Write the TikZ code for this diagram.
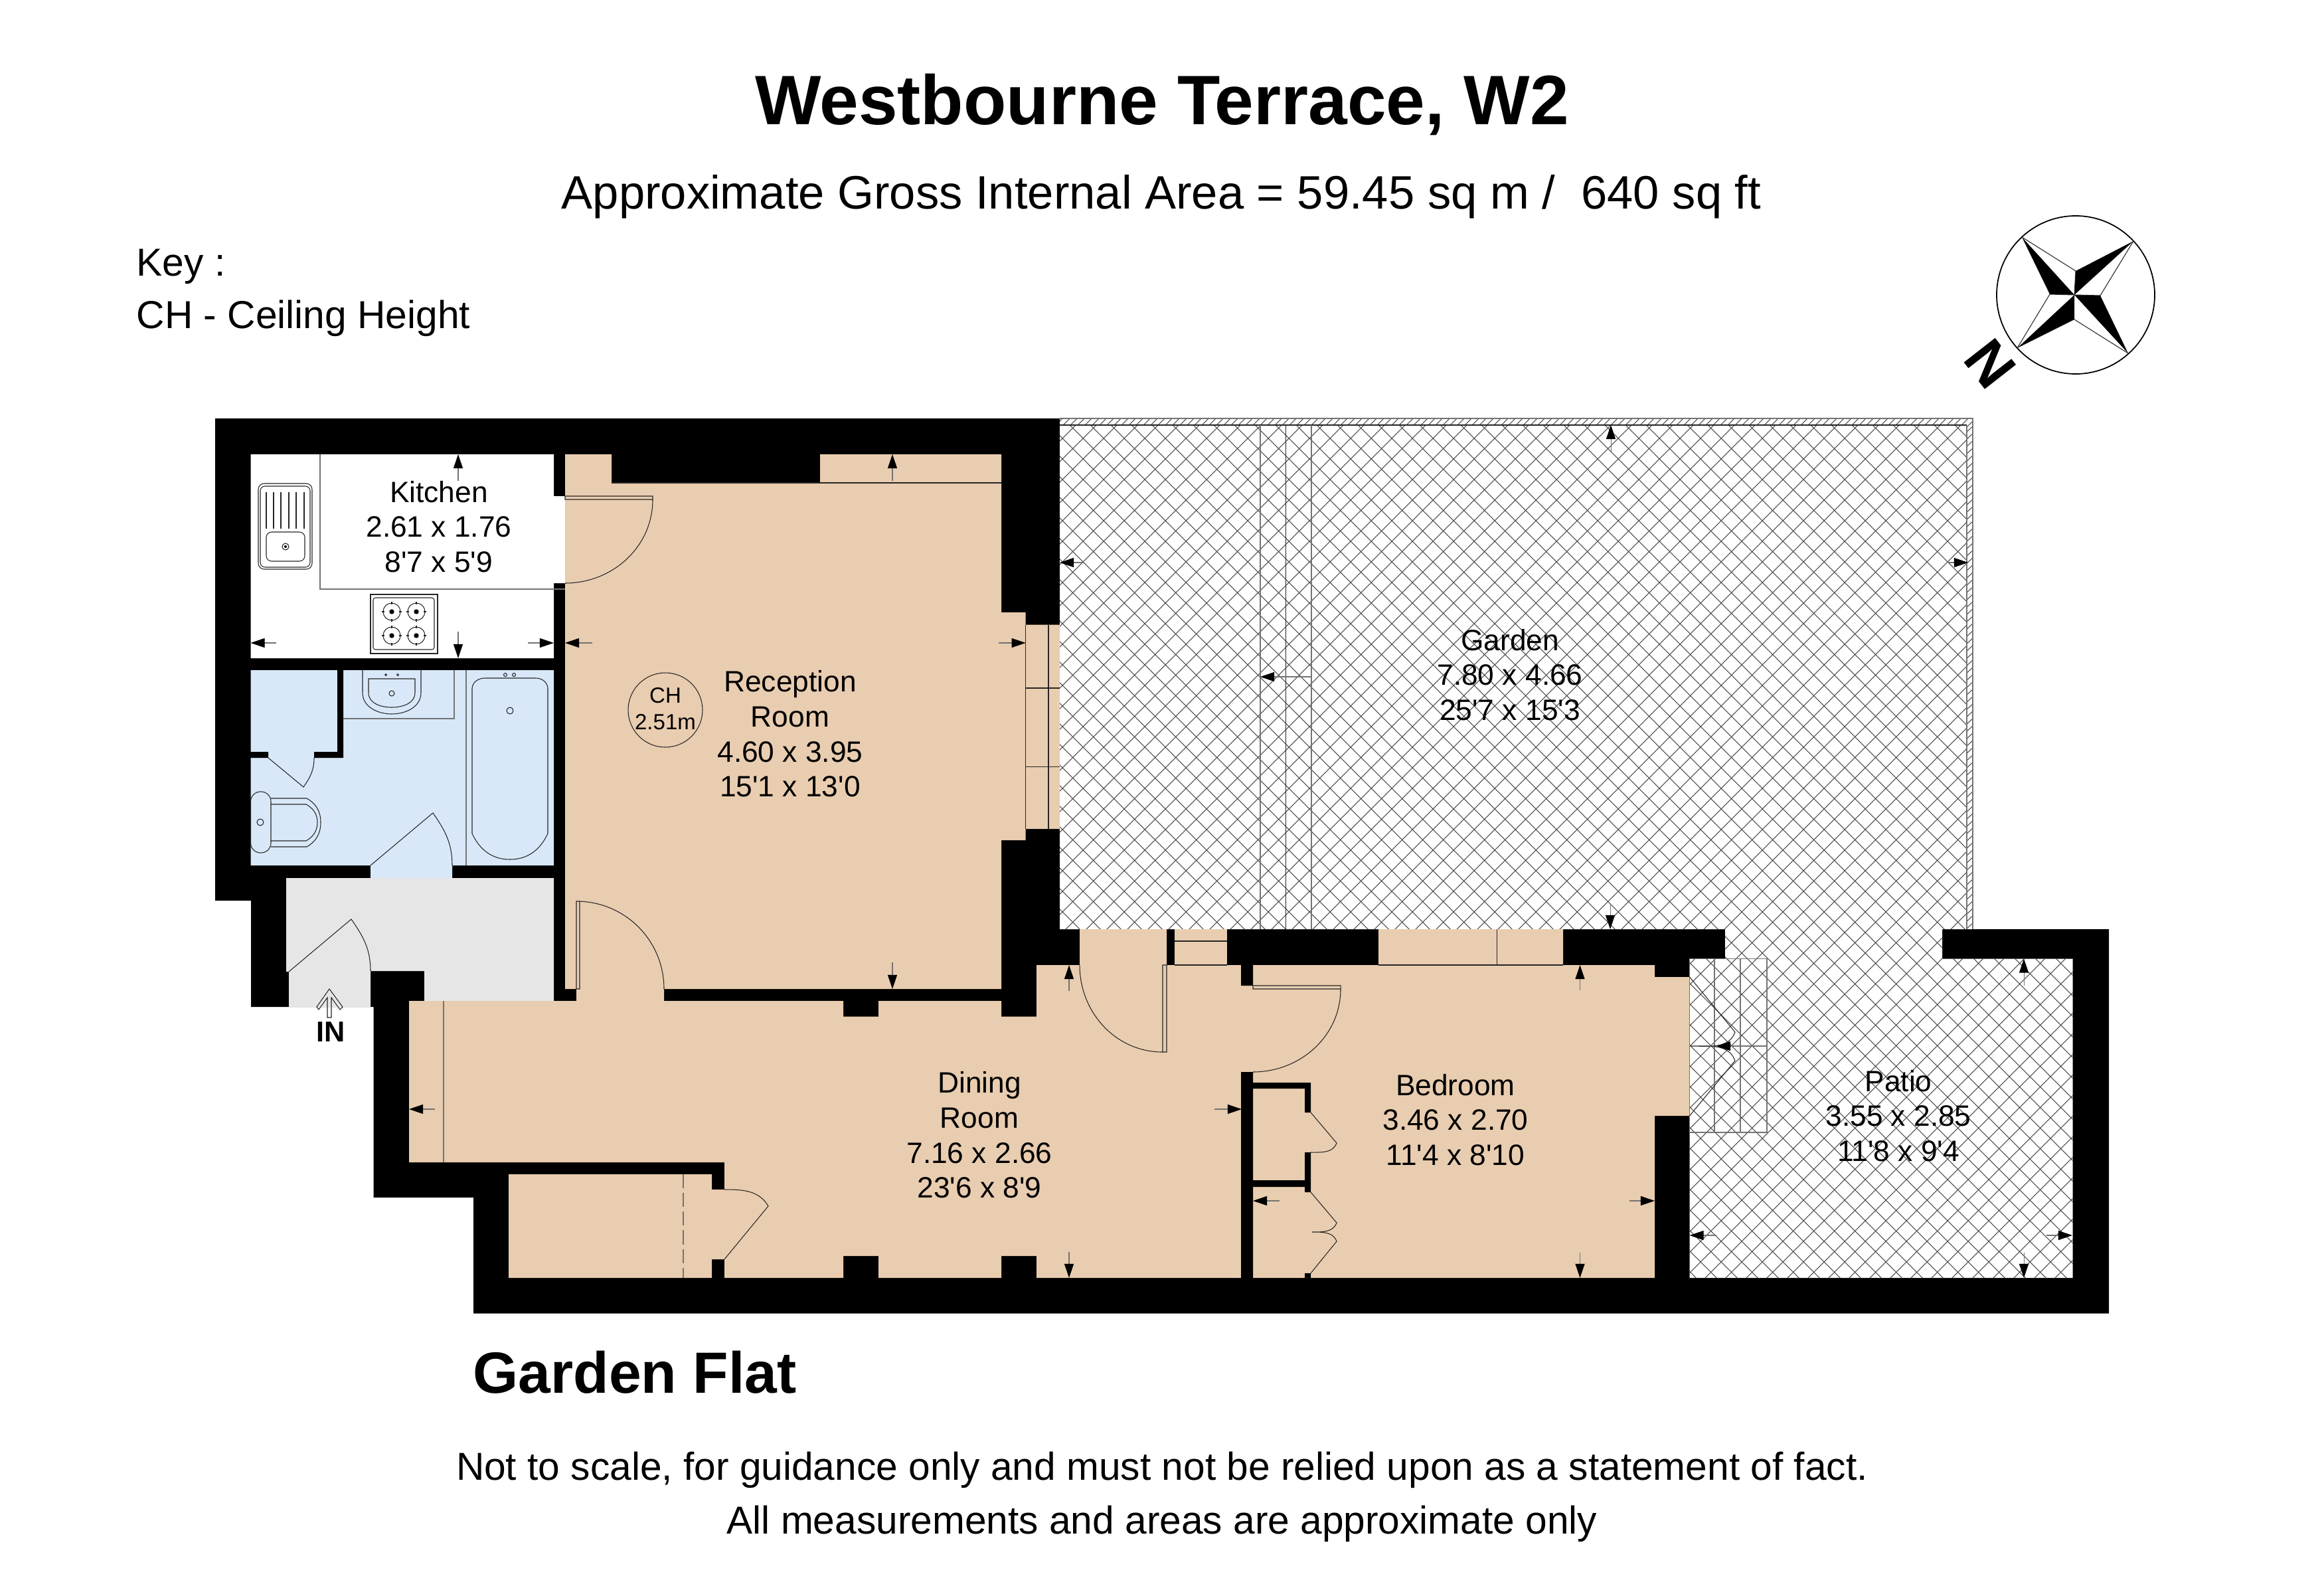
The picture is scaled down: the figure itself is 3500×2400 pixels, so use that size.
\documentclass[tikz,border=0pt]{standalone}
\usepackage{xcolor}
\usepackage{fontspec}
\setmainfont{Liberation Sans}[Ligatures=TeXOff]
\usetikzlibrary{arrows.meta}
\definecolor{roombeige}{RGB}{233,205,176}
\definecolor{bathblue}{RGB}{216,232,248}
\definecolor{hallgrey}{RGB}{230,230,230}
\tikzset{
    thinline/.style={line width=0.3pt,black!85},
    greyline/.style={line width=0.4pt,black!55},
    hatchline/.style={line width=0.3pt,black!70},
    dimarrow/.style={line width=0.3pt,black!55,-{Triangle[length=6pt,width=4pt,fill=black,color=black]}},
    roomlabel/.style={align=center,inner sep=0pt,font=\fontsize{12.6}{15}\selectfont},
    wallpart/.style={fill=black,draw=none}
}
\begin{document}
\begin{tikzpicture}[x=0.01cm,y=-0.01cm]
    \useasboundingbox[fill=white] (0,0) rectangle (3500,2400);

    % Headings
    \node[inner sep=0pt,font=\fontsize{29.97}{34}\bfseries\selectfont] (titletext) at (1750,157) {Westbourne Terrace, W2};
    \node[inner sep=0pt,font=\fontsize{20.07}{24}\selectfont] (areatext) at (1749,296) {Approximate Gross Internal Area = 59.45 sq m /\ \ 640 sq ft};
    \node[inner sep=0pt,anchor=west,font=\fontsize{16.7}{20}\selectfont] (keytext) at (205,401) {Key :};
    \node[inner sep=0pt,anchor=west,font=\fontsize{16.7}{20}\selectfont] (chtext) at (205,479) {CH - Ceiling Height};

    % Compass
    \draw[line width=0.5pt] (3126,444) circle (119);
    \fill (3045,357) -- (3087,443) -- (3124,444) -- cycle;
    \fill (3213,363) -- (3126,408) -- (3124,444) -- cycle;
    \fill (3205,532) -- (3163,445) -- (3124,444) -- cycle;
    \fill (3038,524) -- (3124,481) -- (3124,444) -- cycle;
    \draw[thinline] (3045,357) -- (3126,408) -- (3124,444);
    \draw[thinline] (3213,363) -- (3163,445) -- (3124,444);
    \draw[thinline] (3205,532) -- (3124,481);
    \draw[thinline] (3038,524) -- (3087,443) -- (3124,444);
    \node[inner sep=0pt,rotate=-52,font=\fontsize{24.7}{28}\bfseries\selectfont] (northtext) at (2997,548) {N};

    % Outer walls
    \fill (324,630) -- (1596,630) -- (1596,1399) -- (2598,1399) -- (2598,1443.5) -- (2925,1443.5)
        -- (2925,1399) -- (3176,1399) -- (3176,1977.5) -- (713,1977.5) -- (713,1803) -- (562.5,1803)
        -- (562.5,1516) -- (378,1516) -- (378,1356) -- (324,1356) -- cycle;

    % Garden and patio
    \fill[white] (1596,630) -- (2971,630) -- (2971,1399) -- (2925,1399) -- (2925,1443.5) -- (3121.6,1443.5)
        -- (3121.6,1924) -- (2544.6,1924) -- (2544.6,1443.5) -- (2598,1443.5) -- (2598,1399) -- (1596,1399) -- cycle;
    \begin{scope}
        \clip (1596,640) -- (2962,640) -- (2962,1399) -- (2925,1399) -- (2925,1443.5) -- (3121.6,1443.5)
            -- (3121.6,1924) -- (2544.6,1924) -- (2544.6,1443.5) -- (2598,1443.5) -- (2598,1399) -- (1596,1399) -- cycle;
        \foreach \i in {2229,2260,...,5050}
            \draw[hatchline] (\i-600,600) -- (\i-2000,2000);
        \foreach \i in {-331,-300,...,2495}
            \draw[hatchline] (\i+600,600) -- (\i+2000,2000);
    \end{scope}
    \begin{scope}
        \clip (1596,630) rectangle (2971,640) (2962,640) rectangle (2971,1399);
        \foreach \i in {1600,1611,...,3000}
            \draw[hatchline] (\i-12,642) -- (\i,630);
        \foreach \i in {640,651,...,1400}
            \draw[hatchline] (2960,\i+12) -- (2973,\i);
    \end{scope}
    \draw[greyline] (1596,630) -- (2971,630) -- (2971,1399);
    \draw[thinline] (1596,640) -- (2962,640);
    \draw[greyline] (2962,640) -- (2962,1399);
    \draw[greyline] (1898,640) -- (1898,1399);
    \draw[thinline] (1936,640) -- (1936,1399);
    \draw[greyline] (1975,640) -- (1975,1399);

    % Rooms
    \fill[white] (377.5,684) rectangle (834,991) (834,747) rectangle (851,878);
    \fill[bathblue] (377.5,1009) rectangle (834,1303) (558,1303) rectangle (681,1322);
    \fill[hallgrey] (431,1322) -- (834,1322) -- (834,1507) -- (639,1507) -- (639,1462) -- (558,1462)
        -- (558,1516) -- (435,1516) -- (435,1463) -- (431,1463) -- cycle;
    \fill[roombeige] (851,684) -- (921,684) -- (921,727) -- (1235,727) -- (1235,684) -- (1508,684) -- (1508,922)
        -- (1544.6,922) -- (1544.6,940.6) -- (1596,940.6) -- (1596,1248) -- (1544.6,1248) -- (1544.6,1265)
        -- (1508,1265) -- (1508,1489) -- (1000,1489) -- (1000,1507) -- (868,1507) -- (868,1489) -- (851,1489) -- cycle;
    \fill[roombeige] (616,1507) -- (1270,1507) -- (1270,1530.6) -- (1323,1530.6) -- (1323,1507) -- (1508,1507)
        -- (1508,1530.6) -- (1561,1530.6) -- (1561,1453) -- (1626,1453) -- (1626,1399) -- (1757,1399) -- (1757,1453)
        -- (1869,1453) -- (1869,1924) -- (1561,1924) -- (1561,1891) -- (1508,1891) -- (1508,1924) -- (1323,1924)
        -- (1323,1891) -- (1270,1891) -- (1270,1924) -- (1091,1924) -- (1091,1896) -- (1072,1896) -- (1072,1924)
        -- (766,1924) -- (766,1768) -- (1072,1768) -- (1072,1791) -- (1091,1791) -- (1091,1750) -- (616,1750) -- cycle;
    \fill[roombeige] (1769,1399) rectangle (1848,1453);
    \fill[roombeige] (1887,1453) -- (2076,1453) -- (2076,1399) -- (2354,1399) -- (2354,1453) -- (2492,1453)
        -- (2492,1471) -- (2544.6,1471) -- (2544.6,1680) -- (2492,1680) -- (2492,1924) -- (1887,1924)
        -- (1887,1614) -- (1869,1614) -- (1869,1484) -- (1887,1484) -- cycle;

    % Inner walls
    \fill[wallpart] (1869,1453) rectangle (1887,1484) (1869,1614) rectangle (1887,1924);
    \fill[wallpart] (508,1009) rectangle (517,1141) (377,1132) rectangle (404,1141) (473,1132) rectangle (517,1141);
    \fill[wallpart] (1887,1630) rectangle (1974,1639) (1965,1630) rectangle (1974,1675);
    \fill[wallpart] (1965,1735) rectangle (1974,1795) (1887,1777) rectangle (1974,1787) (1965,1917) rectangle (1974,1924);

    % Windows and edges
    \draw[thinline] (921,727) -- (1508,727);
    \draw[thinline] (1579,940.6) -- (1579,1248) (1544.6,1036) -- (1596,1036) (1544.6,1154.6) -- (1596,1154.6) (1544.6,940.6) -- (1544.6,1248);
    \draw[thinline] (1769,1417) -- (1848,1417) (1769,1453) -- (1848,1453);
    \draw[thinline] (2076,1453) -- (2354,1453) (2254,1399) -- (2254,1453);
    \draw[greyline] (668,1507) -- (668,1750);
    \draw[greyline,dash pattern=on 6pt off 2pt] (1029,1768) -- (1029,1924);
    \draw[greyline] (2544.6,1443.5) rectangle (2661,1705) (2582,1443.5) -- (2582,1705) (2621,1443.5) -- (2621,1705);

    % Doors
    \draw[thinline] (851,747) rectangle (983,752) (983,752) to[out=-90,in=0] (851,878);
    \draw[thinline] (868,1357) rectangle (873,1489) (868,1357) to[out=0,in=90] (1000,1489);
    \draw[thinline] (1751,1453) rectangle (1757,1584) (1751,1584) to[out=180,in=-90] (1626,1453);
    \draw[thinline] (1887,1484) rectangle (2019,1489) (2019,1489) to[out=-90,in=0] (1887,1614);
    \draw[thinline] (558,1303) -- (652,1224) to[out=-55,in=90] (681,1303);
    \draw[thinline] (435,1463) -- (529,1384) to[out=-55,in=90] (558,1462);
    \draw[thinline] (404,1141) -- (457,1185) to[out=55,in=-90] (473,1141);
    \draw[thinline] (1091,1896) -- (1157,1816) to[out=120,in=0] (1091,1791);
    \draw[thinline] (1974,1675) -- (2013,1721) to[out=-110,in=0] (1974,1735);
    \draw[thinline] (1974,1795) -- (2013,1841) to[out=-110,in=0] (1976,1855) to[out=0,in=110] (2013,1869) -- (1974,1917);
    \draw[thinline] (2544.6,1471) -- (2613,1554) to[out=-110,in=0] (2546,1575) to[out=0,in=110] (2613,1597) -- (2544.6,1680);

    % Kitchen fittings
    \draw[greyline] (482,684) -- (482,887) -- (851,887);
    \draw[thinline,rounded corners=2.5pt] (389,728) rectangle (470,857);
    \draw[thinline,rounded corners=2pt] (392,732) rectangle (467,854);
    \draw[thinline,rounded corners=2.3pt] (401,801) rectangle (459,845);
    \foreach \x in {401,412,423,435,446,458}
        \draw[thinline] (\x,741) -- (\x,796);
    \draw[thinline] (430,823) circle (5);
    \fill (430,823) circle (2);
    \draw[thinline] (558,895) rectangle (659,984);
    \draw[thinline,rounded corners=1pt] (562,900) rectangle (654,978);
    \foreach \x in {590,627}
        \foreach \y in {921,957} {
            \draw[thinline] (\x,\y) circle (13);
            \fill (\x,\y) circle (3.7);
            \draw[thinline] (\x-15,\y) -- (\x-11,\y) (\x+11,\y) -- (\x+15,\y) (\x,\y-15) -- (\x,\y-11) (\x,\y+11) -- (\x,\y+15);
        }

    % Bathroom fittings
    \draw[greyline] (517,1082) -- (684,1082) -- (684,1009) (702,1009) -- (702,1303);
    \draw[thinline] (546,1009) -- (546,1043) to[out=-90,in=180] (590,1075) to[out=0,in=-90] (634,1043) -- (634,1009);
    \draw[thinline] (555,1022) -- (555,1043) to[out=-90,in=180] (590,1065) to[out=0,in=-90] (625,1043) -- (625,1022) -- cycle;
    \draw[thinline] (590,1044) circle (4) (581,1016) circle (1.5) (599,1016) circle (1.5);
    \draw[thinline] (711,1255) -- (711,1037) to[out=90,in=180] (730,1021) -- (807,1021) to[out=0,in=90] (825,1037)
        -- (825,1255) to[out=-115,in=0] (768,1294) to[out=180,in=-65] (711,1255);
    \draw[thinline] (768,1070) circle (5) (761,1016) circle (2.5) (774,1016) circle (2.5);
    \draw[thinline,rounded corners=4.2pt] (377.5,1192) rectangle (408,1284);
    \draw[thinline] (408,1202) -- (462,1202) to[out=-30,in=90] (483,1238) to[out=-90,in=30] (462,1275) -- (408,1275);
    \draw[thinline] (408,1211) -- (461,1211) to[out=-30,in=90] (478,1238) to[out=-90,in=30] (461,1266) -- (408,1266);
    \draw[thinline] (392,1238) circle (5);

    % Entrance arrow
    \draw[thinline] (496,1489) -- (516,1516) -- (512,1520) -- (499,1502) -- (499,1532) -- (493,1532) -- (493,1502) -- (480,1520) -- (477,1516) -- cycle;
    \node[inner sep=0pt,font=\fontsize{12.3}{14}\bfseries\selectfont] (intext) at (498,1554) {IN};

    % Measure arrows
    \foreach \tx/\ty/\hx/\hy in {690/724/690/684,690/951/690/991,416/968/377.5/968,795/968/834/968,
        892/968/851/968,1504/968/1544.6/968,1344/724/1344/684,1344/1449/1344/1489,
        2426/680/2426/640,2425/1360/2425/1399,1632/847/1596/847,2935/847/2964/847,1975/1019/1898/1019,
        3048/1484/3048/1443.5,3048/1886/3048/1924,2585/1860/2544.6/1860,3082/1860/3121/1860,
        2379.5/1491/2379.5/1453,2379.5/1886/2379.5/1924,1927/1808/1887/1808,2454/1808/2492/1808,2661/1575/2585/1575,
        655/1670/616/1670,1829/1670/1870/1670,1610/1492/1610/1453,1610/1885/1610/1924}
        \draw[dimarrow] (\tx,\ty) -- (\hx,\hy);

    % Ceiling height
    \draw[thinline] (1002,1069) circle (56);
    \node[inner sep=0pt,align=center,font=\fontsize{9.4}{11.4}\selectfont] (cheight) at (1002,1067) {CH\\2.51m};

    % Room names
    \node[roomlabel] (kitchenlabel) at (661,793) {Kitchen\\2.61 x 1.76\\8'7 x 5'9};
    \node[roomlabel] (receptionlabel) at (1190,1105) {Reception\\Room\\4.60 x 3.95\\15'1 x 13'0};
    \node[roomlabel] (gardenlabel) at (2274,1016) {Garden\\7.80 x 4.66\\25'7 x 15'3};
    \node[roomlabel] (dininglabel) at (1475,1709) {Dining\\Room\\7.16 x 2.66\\23'6 x 8'9};
    \node[roomlabel] (bedroomlabel) at (2192,1686) {Bedroom\\3.46 x 2.70\\11'4 x 8'10};
    \node[roomlabel] (patiolabel) at (2859,1680) {Patio\\3.55 x 2.85\\11'8 x 9'4};

    % Footer
    \node[inner sep=0pt,anchor=west,font=\fontsize{24.9}{28}\bfseries\selectfont] (flattext) at (712,2066) {Garden Flat};
    \node[inner sep=0pt,font=\fontsize{16.68}{20}\selectfont] (notefirst) at (1750,2213) {Not to scale, for guidance only and must not be relied upon as a statement of fact.};
    \node[inner sep=0pt,font=\fontsize{16.68}{20}\selectfont] (notesecond) at (1750,2294) {All measurements and areas are approximate only};
\end{tikzpicture}
\end{document}
